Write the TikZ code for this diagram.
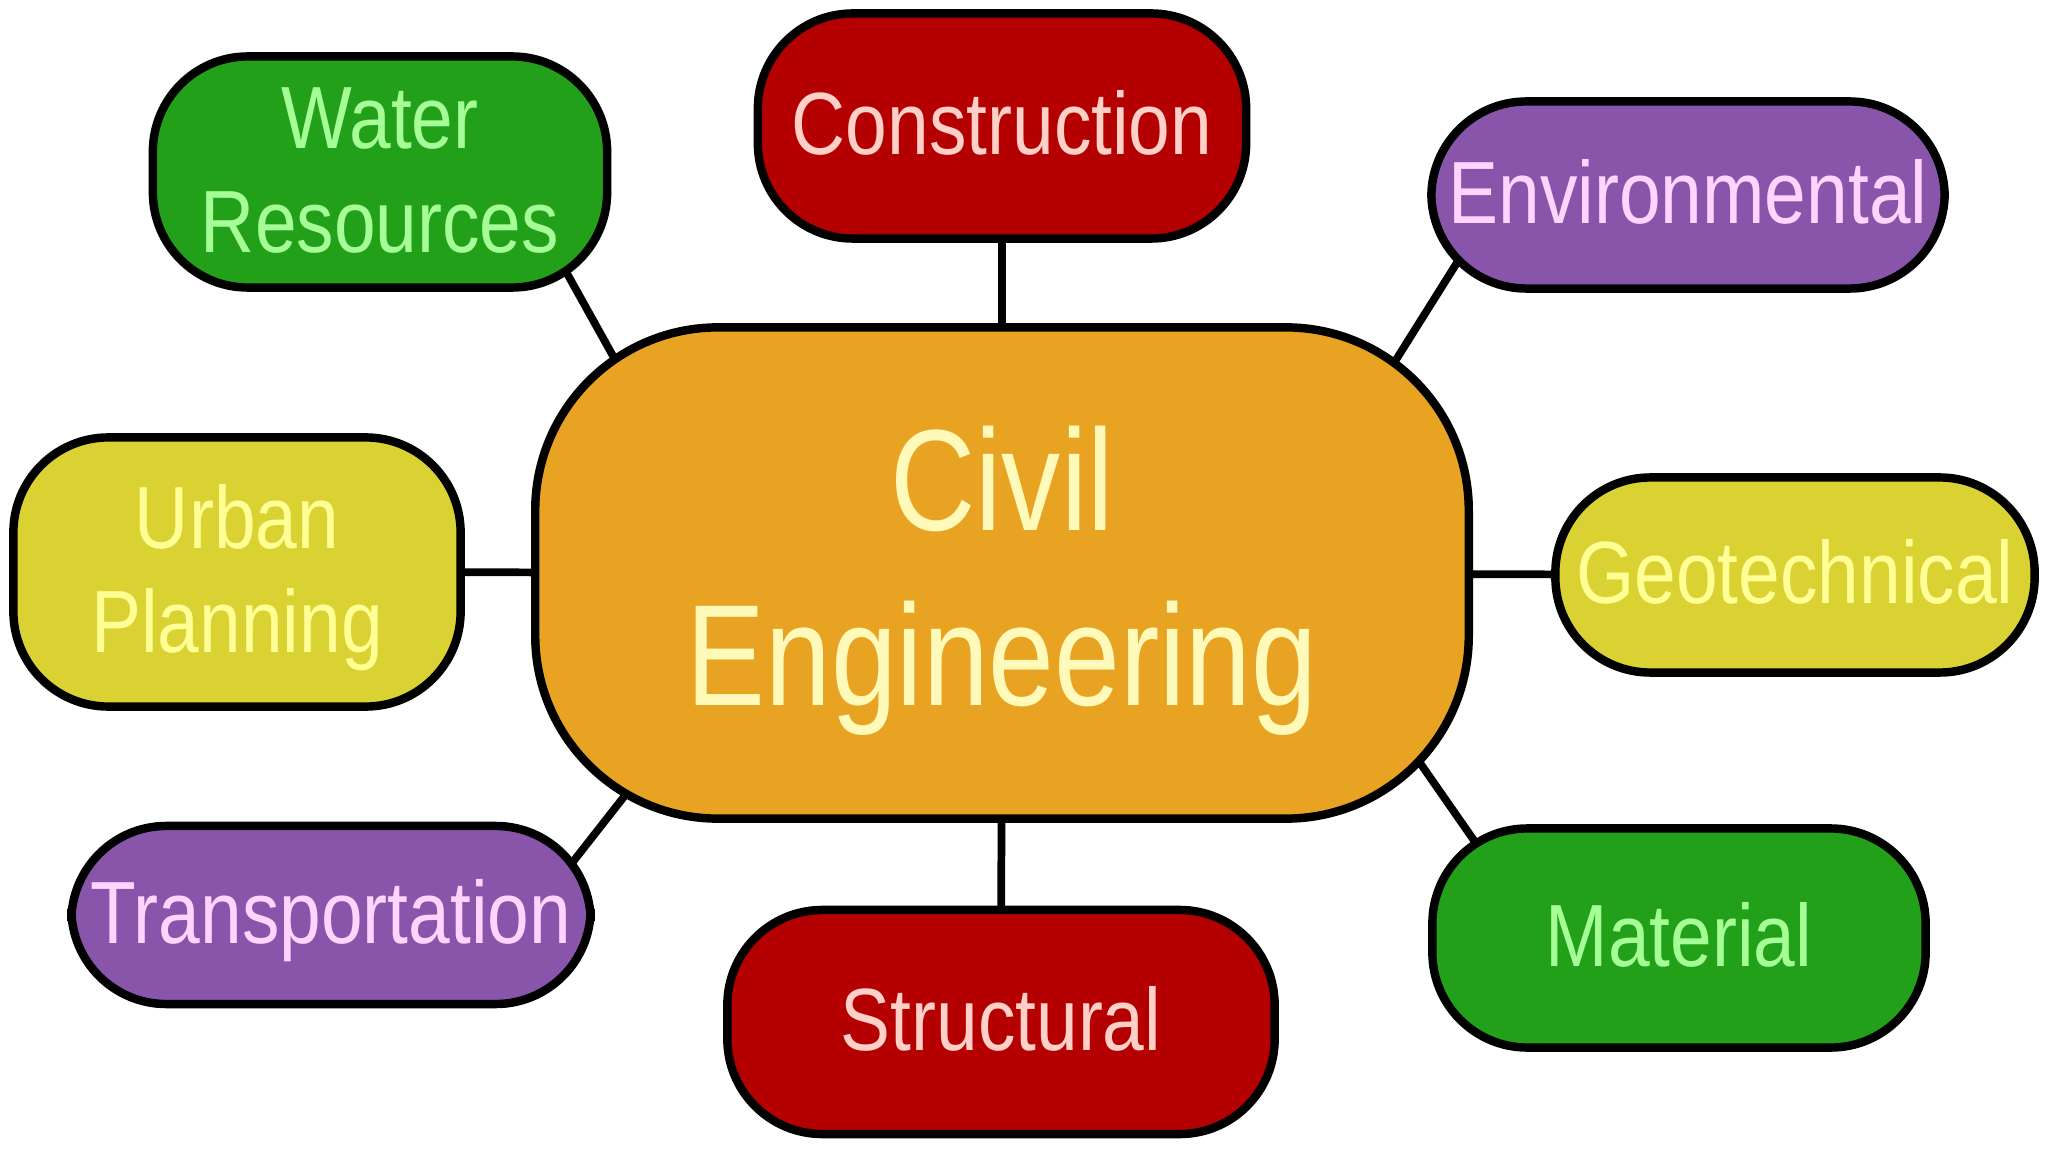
\documentclass[tikz,border=0pt]{standalone}
\usepackage{fontspec}
\setmainfont{Liberation Sans}
\usepackage{graphicx}
\usetikzlibrary{backgrounds}

\definecolor{civfill}{RGB}{232,163,34}
\definecolor{civtext}{RGB}{255,250,185}
\definecolor{redfill}{RGB}{180,0,0}
\definecolor{redtext}{RGB}{255,208,200}
\definecolor{grnfill}{RGB}{34,160,26}
\definecolor{grntext}{RGB}{165,255,150}
\definecolor{purfill}{RGB}{136,85,170}
\definecolor{purtext}{RGB}{255,212,255}
\definecolor{yelfill}{RGB}{218,210,50}
\definecolor{yeltext}{RGB}{255,255,150}

\tikzstyle{hub}=[rectangle,rounded corners=1.83cm,draw=black,line width=2.4pt,fill=civfill,text=civtext,minimum width=9.33cm,minimum height=4.91cm,inner sep=0pt]
\tikzstyle{branch}=[rectangle,rounded corners=0.95cm,draw=black,line width=2.4pt,inner sep=0pt]
\tikzstyle{link} = [draw,line width=2.2pt]

\newcommand{\hubtext}[1]{\raisebox{-0.1cm}[\height][\depth]{\scalebox{1}[1.22]{\fontsize{33.6}{40.7}\selectfont\begin{tabular}{@{}c@{}}#1\end{tabular}}}}
\newcommand{\branchtext}[1]{\raisebox{-0.08cm}[\height][\depth]{\scalebox{1}[1.18]{\fontsize{21.3}{25}\selectfont\begin{tabular}{@{}c@{}}#1\end{tabular}}}}

\begin{document}
\begin{tikzpicture}[x=0.01cm,y=-0.01cm]

    \useasboundingbox (0,0) rectangle (2048,1152);

    % The big centre node
    \node[hub] (civil) at (1002,573) {\hubtext{Civil\\Engineering}};

    % Then the eight branches around it
    \foreach \pos/\name/\w/\h/\fc/\tc/\label in {
        {(1002,126)/cons/4.88/2.25/redfill/redtext/Construction},
        {(380,172)/water/4.54/2.31/grnfill/grntext/{Water\\Resources}},
        {(1688,195)/env/5.13/1.87/purfill/purtext/Environmental},
        {(237,572)/urban/4.47/2.69/yelfill/yeltext/{Urban\\Planning}},
        {(1795,575)/geo/4.79/1.95/yelfill/yeltext/Geotechnical},
        {(331,915)/trans/5.19/1.78/purfill/purtext/Transportation},
        {(1001,1022)/struct/5.47/2.24/redfill/redtext/Structural},
        {(1679,938)/mat/4.93/2.19/grnfill/grntext/Material}}
        \node[branch,fill=\fc,text=\tc,minimum width=\w cm,minimum height=\h cm] (\name) at \pos {\branchtext{\label}};

    % Connect the branches to the centre, behind the boxes
    \begin{pgfonlayer}{background}
        \fill[white] (0,0) rectangle (2048,1152);
        \foreach \source/\dest in {cons/civil, struct/civil, urban/civil, geo/civil}
            \path[link] (\source.center) -- (\dest.center);
        \path[link] ([shift={(-67,-59)}]water.south east) -- ([shift={(125,110)}]civil.north west);
        \path[link] ([shift={(43,-51)}]env.south west) -- ([shift={(-108,86)}]civil.north east);
        \path[link] ([shift={(-36,58)}]trans.north east) -- ([shift={(125,-67)}]civil.south west);
        \path[link] ([shift={(-83,-103)}]civil.south east) -- ([shift={(68,48)}]mat.north west);
    \end{pgfonlayer}

\end{tikzpicture}
\end{document}
